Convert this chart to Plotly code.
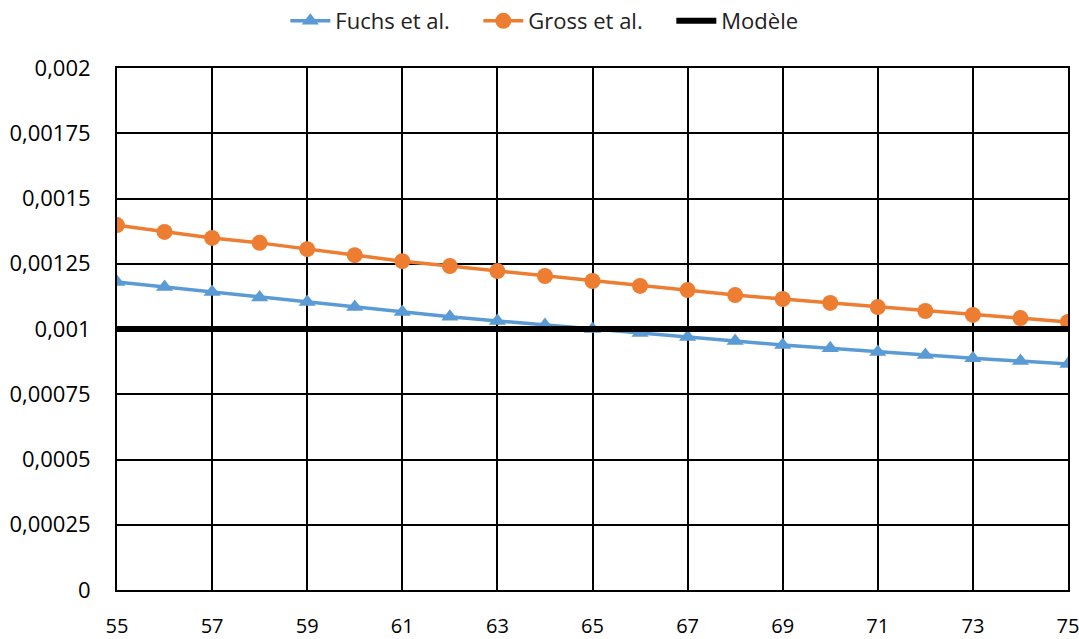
import plotly.graph_objects as go

ages = list(range(55, 76))
fuchs = [0.00118, 0.001161, 0.001142, 0.001121, 0.001103, 0.001084, 0.001065, 0.001047,
         0.001031, 0.001015, 0.001, 0.000985, 0.000969, 0.000954, 0.000939, 0.000926,
         0.000912, 0.0009, 0.000888, 0.000877, 0.000866]
gross = [0.001398, 0.001372, 0.001349, 0.00133, 0.001306, 0.001283, 0.00126, 0.001241,
         0.001222, 0.001203, 0.001184, 0.001165, 0.001149, 0.00113, 0.001115, 0.0011,
         0.001084, 0.001069, 0.001054, 0.001042, 0.001027]
modele = [0.001] * len(ages)

y_ticks = [0, 0.00025, 0.0005, 0.00075, 0.001, 0.00125, 0.0015, 0.00175, 0.002]
y_labels = ["0", "0,00025", "0,0005", "0,00075", "0,001", "0,00125", "0,0015", "0,00175", "0,002"]
x_ticks = list(range(55, 76, 2))

fig = go.Figure()
fig.add_trace(go.Scatter(x=ages, y=fuchs, name="Fuchs et al.", mode="lines+markers",
                         line=dict(color="#5B9BD5", width=3.5),
                         marker=dict(symbol="triangle-up", size=15, color="#5B9BD5")))
fig.add_trace(go.Scatter(x=ages, y=gross, name="Gross et al.", mode="lines+markers",
                         line=dict(color="#ED7D31", width=3.5),
                         marker=dict(symbol="circle", size=16, color="#ED7D31")))
fig.add_trace(go.Scatter(x=ages, y=modele, name="Modèle", mode="lines",
                         line=dict(color="black", width=6)))

font = "Open Sans, Liberation Sans, sans-serif"
fig.update_layout(
    width=1079, height=639,
    margin=dict(l=117, r=11, t=68, b=49, autoexpand=False),
    paper_bgcolor="white", plot_bgcolor="white",
    font=dict(family=font, size=22, color="black"),
    showlegend=True,
    legend=dict(orientation="h", x=0.177, xanchor="left", y=1.0, yanchor="top",
                yref="container", font=dict(size=22, color="#222222"),
                traceorder="normal", itemwidth=40, entrywidth=138),
    xaxis=dict(range=[55, 75], tickvals=x_ticks, ticktext=[str(v) for v in x_ticks],
               showgrid=True, gridcolor="black", gridwidth=2, zeroline=False,
               showline=True, linecolor="black", linewidth=2, mirror=True,
               ticks="", tickfont=dict(size=20), automargin=False,
               ticklabelstandoff=17, ticklabeloverflow="allow"),
    yaxis=dict(range=[0, 0.002], tickvals=y_ticks, ticktext=y_labels,
               showgrid=True, gridcolor="black", gridwidth=2, zeroline=False,
               showline=True, linecolor="black", linewidth=2, mirror=True,
               ticks="", tickfont=dict(size=22), automargin=False,
               ticklabelstandoff=20, ticklabeloverflow="allow"),
)
fig.write_html("out.html", post_script="document.body.style.margin='0';",
               config={"displayModeBar": False})
